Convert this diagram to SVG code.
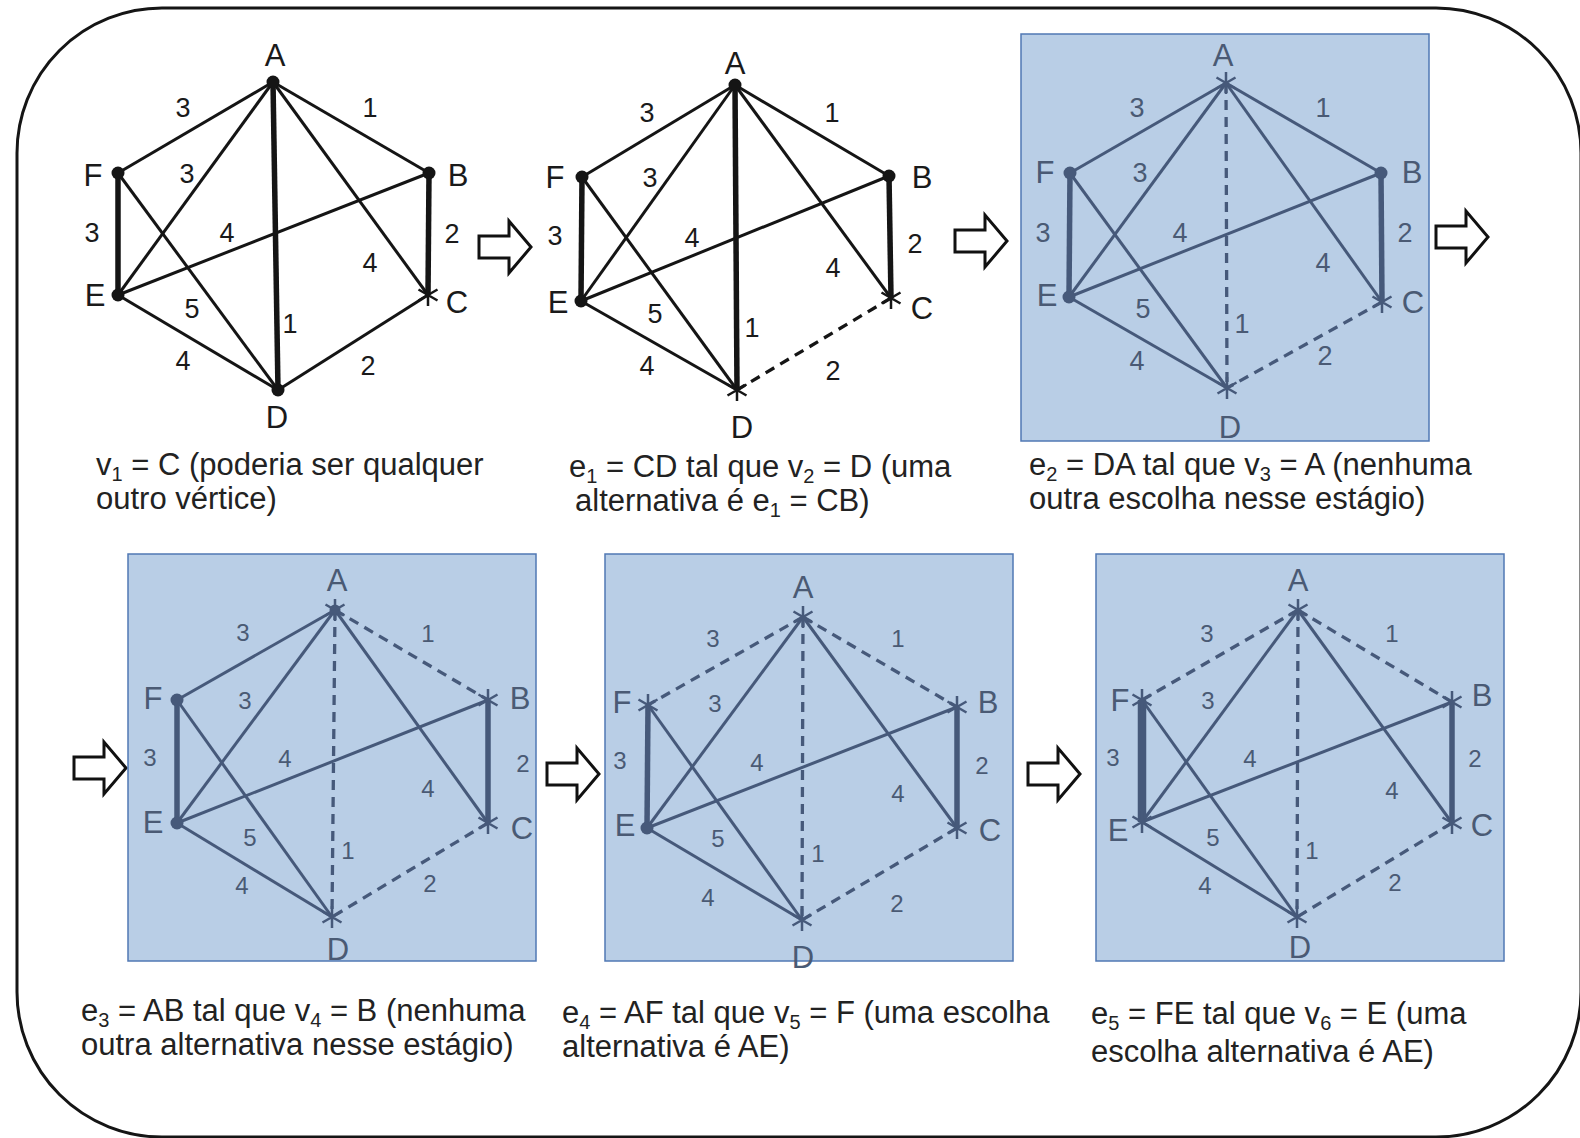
<svg xmlns="http://www.w3.org/2000/svg" width="1580" height="1138" viewBox="0 0 1580 1138">
<defs>
<style>
text{font-family:"Liberation Sans",Arial,sans-serif}
.lb{font-size:31px;text-anchor:middle}
.w{font-size:27px;text-anchor:middle}
.w2{font-size:24px;text-anchor:middle}
.cap{font-size:31px;fill:#222}
.sub{font-size:20px}
.k line{stroke:#151515}
.k text{fill:#1a1a1a}
.k circle{fill:#151515}
.k use{stroke:#151515}
.bl line{stroke:#46597a}
.bl text{fill:#4a5a74}
.bl circle{fill:#46597a}
.bl use{stroke:#46597a}
.e{stroke-width:3}
.t{stroke-width:5.5}
.tt{stroke-width:8.5}
.d{stroke-width:3.3;stroke-dasharray:10 7}
.box{fill:#b9cee6;stroke:#5078b4;stroke-width:1.5}
.arr{fill:#fff;stroke:#111;stroke-width:3}
.frame{fill:none;stroke:#151515;stroke-width:3}
</style>
<path id="st" d="M0,-11V11M-9.5,-5.5L9.5,5.5M-9.5,5.5L9.5,-5.5" fill="none" stroke-width="2.5"/>
<path id="ar" d="M0,-11H30V-26L52,0L30,26V11H0Z"/>
</defs>
<rect width="1580" height="1138" fill="#fff"/>
<rect class="frame" x="17" y="8" width="1564" height="1129" rx="145" ry="145"/>

<!-- arrows -->
<g id="arrows">
<use href="#ar" class="arr" x="479" y="247"/>
<use href="#ar" class="arr" x="955" y="241"/>
<use href="#ar" class="arr" x="1436" y="237"/>
<use href="#ar" class="arr" x="74" y="768"/>
<use href="#ar" class="arr" x="547" y="774"/>
<use href="#ar" class="arr" x="1028" y="774"/>
</g>

<!-- Panel 1 -->
<g id="panel1" class="k">
<g id="p1-edges">
<line class="e" x1="273" y1="82" x2="118" y2="173"/>
<line class="e" x1="273" y1="82" x2="429" y2="173"/>
<line class="e" x1="273" y1="82" x2="118" y2="295"/>
<line class="t" x1="273" y1="82" x2="278" y2="390"/>
<line class="e" x1="273" y1="82" x2="428" y2="295"/>
<line class="t" x1="118" y1="173" x2="118" y2="295"/>
<line class="e" x1="118" y1="173" x2="278" y2="390"/>
<line class="e" x1="118" y1="295" x2="429" y2="173"/>
<line class="e" x1="118" y1="295" x2="278" y2="390"/>
<line class="t" x1="429" y1="173" x2="428" y2="295"/>
<line class="e" x1="428" y1="295" x2="278" y2="390"/>
<text class="w" x="183" y="117">3</text>
<text class="w" x="370" y="117">1</text>
<text class="w" x="187" y="183">3</text>
<text class="w" x="92" y="242">3</text>
<text class="w" x="227" y="242">4</text>
<text class="w" x="452" y="243">2</text>
<text class="w" x="370" y="272">4</text>
<text class="w" x="192" y="318">5</text>
<text class="w" x="290" y="333">1</text>
<text class="w" x="183" y="370">4</text>
<text class="w" x="368" y="375">2</text>
</g>
<g id="p1-A"><circle cx="273" cy="82" r="6.5"/><text class="lb" x="275" y="66">A</text></g>
<g id="p1-B"><circle cx="429" cy="173" r="6.5"/><text class="lb" x="458" y="186">B</text></g>
<g id="p1-C"><use href="#st" x="428" y="295"/><text class="lb" x="457" y="313">C</text></g>
<g id="p1-D"><circle cx="278" cy="390" r="6.5"/><text class="lb" x="277" y="428">D</text></g>
<g id="p1-E"><circle cx="118" cy="295" r="6.5"/><text class="lb" x="95" y="306">E</text></g>
<g id="p1-F"><circle cx="118" cy="173" r="6.5"/><text class="lb" x="93" y="186">F</text></g>
</g>

<!-- Panel 2 -->
<g id="panel2" class="k">
<g id="p2-edges">
<line class="e" x1="735" y1="85" x2="582" y2="177"/>
<line class="e" x1="735" y1="85" x2="889" y2="176"/>
<line class="e" x1="735" y1="85" x2="581" y2="301"/>
<line class="t" x1="735" y1="85" x2="737" y2="390"/>
<line class="e" x1="735" y1="85" x2="891" y2="298"/>
<line class="t" x1="582" y1="177" x2="581" y2="301"/>
<line class="e" x1="582" y1="177" x2="737" y2="390"/>
<line class="e" x1="581" y1="301" x2="889" y2="176"/>
<line class="e" x1="581" y1="301" x2="737" y2="390"/>
<line class="t" x1="889" y1="176" x2="891" y2="298"/>
<line class="d" x1="891" y1="298" x2="737" y2="390"/>
<text class="w" x="647" y="122">3</text>
<text class="w" x="832" y="122">1</text>
<text class="w" x="650" y="187">3</text>
<text class="w" x="555" y="245">3</text>
<text class="w" x="692" y="247">4</text>
<text class="w" x="915" y="253">2</text>
<text class="w" x="833" y="277">4</text>
<text class="w" x="655" y="323">5</text>
<text class="w" x="752" y="337">1</text>
<text class="w" x="647" y="375">4</text>
<text class="w" x="833" y="380">2</text>
</g>
<g id="p2-A"><circle cx="735" cy="85" r="6.5"/><text class="lb" x="735" y="74">A</text></g>
<g id="p2-B"><circle cx="889" cy="176" r="6.5"/><text class="lb" x="922" y="188">B</text></g>
<g id="p2-C"><use href="#st" x="891" y="298"/><text class="lb" x="922" y="319">C</text></g>
<g id="p2-D"><use href="#st" x="737" y="390"/><text class="lb" x="742" y="438">D</text></g>
<g id="p2-E"><circle cx="581" cy="301" r="6.5"/><text class="lb" x="558" y="313">E</text></g>
<g id="p2-F"><circle cx="582" cy="177" r="6.5"/><text class="lb" x="555" y="188">F</text></g>
</g>

<!-- Panel 3 -->
<g id="panel3" class="bl">
<rect class="box" x="1021" y="34" width="408" height="407"/>
<g id="p3-edges">
<line class="e" x1="1226" y1="83" x2="1070" y2="173"/>
<line class="e" x1="1226" y1="83" x2="1381" y2="173"/>
<line class="e" x1="1226" y1="83" x2="1069" y2="297"/>
<line class="d" x1="1226" y1="83" x2="1227" y2="388"/>
<line class="e" x1="1226" y1="83" x2="1382" y2="302"/>
<line class="t" x1="1070" y1="173" x2="1069" y2="297"/>
<line class="e" x1="1070" y1="173" x2="1227" y2="388"/>
<line class="e" x1="1069" y1="297" x2="1381" y2="173"/>
<line class="e" x1="1069" y1="297" x2="1227" y2="388"/>
<line class="t" x1="1381" y1="173" x2="1382" y2="302"/>
<line class="d" x1="1382" y1="302" x2="1227" y2="388"/>
<text class="w" x="1137" y="117">3</text>
<text class="w" x="1323" y="117">1</text>
<text class="w" x="1140" y="182">3</text>
<text class="w" x="1043" y="242">3</text>
<text class="w" x="1180" y="242">4</text>
<text class="w" x="1405" y="242">2</text>
<text class="w" x="1323" y="272">4</text>
<text class="w" x="1143" y="318">5</text>
<text class="w" x="1242" y="333">1</text>
<text class="w" x="1137" y="370">4</text>
<text class="w" x="1325" y="365">2</text>
</g>
<g id="p3-A"><use href="#st" x="1226" y="83"/><text class="lb" x="1223" y="66">A</text></g>
<g id="p3-B"><circle cx="1381" cy="173" r="6.5"/><text class="lb" x="1412" y="183">B</text></g>
<g id="p3-C"><use href="#st" x="1382" y="302"/><text class="lb" x="1413" y="313">C</text></g>
<g id="p3-D"><use href="#st" x="1227" y="388"/><text class="lb" x="1230" y="438">D</text></g>
<g id="p3-E"><circle cx="1069" cy="297" r="6.5"/><text class="lb" x="1047" y="306">E</text></g>
<g id="p3-F"><circle cx="1070" cy="173" r="6.5"/><text class="lb" x="1045" y="183">F</text></g>
</g>

<!-- Panel 4 -->
<g id="panel4" class="bl">
<rect class="box" x="128" y="554" width="408" height="407"/>
<g id="p4-edges">
<line class="e" x1="335" y1="610" x2="177" y2="700"/>
<line class="d" x1="335" y1="610" x2="488" y2="700"/>
<line class="e" x1="335" y1="610" x2="177" y2="823"/>
<line class="d" x1="335" y1="610" x2="332" y2="917"/>
<line class="e" x1="335" y1="610" x2="488" y2="823"/>
<line class="t" x1="177" y1="700" x2="177" y2="823"/>
<line class="e" x1="177" y1="700" x2="332" y2="917"/>
<line class="e" x1="177" y1="823" x2="488" y2="700"/>
<line class="e" x1="177" y1="823" x2="332" y2="917"/>
<line class="t" x1="488" y1="700" x2="488" y2="823"/>
<line class="d" x1="488" y1="823" x2="332" y2="917"/>
<text class="w2" x="243" y="641">3</text>
<text class="w2" x="428" y="642">1</text>
<text class="w2" x="245" y="709">3</text>
<text class="w2" x="150" y="766">3</text>
<text class="w2" x="285" y="767">4</text>
<text class="w2" x="523" y="772">2</text>
<text class="w2" x="428" y="797">4</text>
<text class="w2" x="250" y="846">5</text>
<text class="w2" x="348" y="859">1</text>
<text class="w2" x="242" y="894">4</text>
<text class="w2" x="430" y="892">2</text>
</g>
<g id="p4-A"><circle cx="335" cy="610" r="5.5"/><use href="#st" x="335" y="610"/><text class="lb" x="337" y="591">A</text></g>
<g id="p4-B"><use href="#st" x="488" y="700"/><text class="lb" x="520" y="709">B</text></g>
<g id="p4-C"><use href="#st" x="488" y="823"/><text class="lb" x="522" y="839">C</text></g>
<g id="p4-D"><use href="#st" x="332" y="917"/><text class="lb" x="338" y="960">D</text></g>
<g id="p4-E"><circle cx="177" cy="823" r="6.5"/><text class="lb" x="153" y="833">E</text></g>
<g id="p4-F"><circle cx="177" cy="700" r="6.5"/><text class="lb" x="153" y="709">F</text></g>
</g>

<!-- Panel 5 -->
<g id="panel5" class="bl">
<rect class="box" x="605" y="554" width="408" height="407"/>
<g id="p5-edges">
<line class="d" x1="803" y1="617" x2="648" y2="705"/>
<line class="d" x1="803" y1="617" x2="957" y2="707"/>
<line class="e" x1="803" y1="617" x2="647" y2="828"/>
<line class="d" x1="803" y1="617" x2="802" y2="920"/>
<line class="e" x1="803" y1="617" x2="957" y2="828"/>
<line class="t" x1="648" y1="705" x2="647" y2="828"/>
<line class="e" x1="648" y1="705" x2="802" y2="920"/>
<line class="e" x1="647" y1="828" x2="957" y2="707"/>
<line class="e" x1="647" y1="828" x2="802" y2="920"/>
<line class="t" x1="957" y1="707" x2="957" y2="828"/>
<line class="d" x1="957" y1="828" x2="802" y2="920"/>
<text class="w2" x="713" y="647">3</text>
<text class="w2" x="898" y="647">1</text>
<text class="w2" x="715" y="712">3</text>
<text class="w2" x="620" y="769">3</text>
<text class="w2" x="757" y="771">4</text>
<text class="w2" x="982" y="774">2</text>
<text class="w2" x="898" y="802">4</text>
<text class="w2" x="718" y="847">5</text>
<text class="w2" x="818" y="862">1</text>
<text class="w2" x="708" y="906">4</text>
<text class="w2" x="897" y="912">2</text>
</g>
<g id="p5-A"><use href="#st" x="803" y="617"/><text class="lb" x="803" y="598">A</text></g>
<g id="p5-B"><use href="#st" x="957" y="707"/><text class="lb" x="988" y="713">B</text></g>
<g id="p5-C"><use href="#st" x="957" y="828"/><text class="lb" x="990" y="841">C</text></g>
<g id="p5-D"><use href="#st" x="802" y="920"/><text class="lb" x="803" y="968">D</text></g>
<g id="p5-E"><circle cx="647" cy="828" r="6.5"/><text class="lb" x="625" y="836">E</text></g>
<g id="p5-F"><use href="#st" x="648" y="705"/><text class="lb" x="622" y="713">F</text></g>
</g>

<!-- Panel 6 -->
<g id="panel6" class="bl">
<rect class="box" x="1096" y="554" width="408" height="407"/>
<g id="p6-edges">
<line class="d" x1="1298" y1="610" x2="1142" y2="700"/>
<line class="d" x1="1298" y1="610" x2="1452" y2="702"/>
<line class="e" x1="1298" y1="610" x2="1142" y2="822"/>
<line class="d" x1="1298" y1="610" x2="1297" y2="917"/>
<line class="e" x1="1298" y1="610" x2="1452" y2="823"/>
<line class="tt" x1="1142" y1="700" x2="1142" y2="822"/>
<line class="e" x1="1142" y1="700" x2="1297" y2="917"/>
<line class="e" x1="1142" y1="822" x2="1452" y2="702"/>
<line class="e" x1="1142" y1="822" x2="1297" y2="917"/>
<line class="t" x1="1452" y1="702" x2="1452" y2="823"/>
<line class="d" x1="1452" y1="823" x2="1297" y2="917"/>
<text class="w2" x="1207" y="642">3</text>
<text class="w2" x="1392" y="642">1</text>
<text class="w2" x="1208" y="709">3</text>
<text class="w2" x="1113" y="766">3</text>
<text class="w2" x="1250" y="767">4</text>
<text class="w2" x="1475" y="767">2</text>
<text class="w2" x="1392" y="799">4</text>
<text class="w2" x="1213" y="846">5</text>
<text class="w2" x="1312" y="859">1</text>
<text class="w2" x="1205" y="894">4</text>
<text class="w2" x="1395" y="891">2</text>
</g>
<g id="p6-A"><use href="#st" x="1298" y="610"/><text class="lb" x="1298" y="591">A</text></g>
<g id="p6-B"><use href="#st" x="1452" y="702"/><text class="lb" x="1482" y="706">B</text></g>
<g id="p6-C"><use href="#st" x="1452" y="823"/><text class="lb" x="1482" y="836">C</text></g>
<g id="p6-D"><use href="#st" x="1297" y="917"/><text class="lb" x="1300" y="958">D</text></g>
<g id="p6-E"><use href="#st" x="1142" y="822"/><text class="lb" x="1118" y="841">E</text></g>
<g id="p6-F"><use href="#st" x="1142" y="700"/><text class="lb" x="1120" y="711">F</text></g>
</g>

<!-- captions -->
<g id="captions">
<text class="cap" x="96" y="475">v<tspan class="sub" dy="6">1</tspan><tspan dy="-6"> = C (poderia ser qualquer</tspan></text>
<text class="cap" x="96" y="509">outro vértice)</text>
<text class="cap" x="569" y="477">e<tspan class="sub" dy="6">1</tspan><tspan dy="-6"> = CD tal que v</tspan><tspan class="sub" dy="6">2</tspan><tspan dy="-6"> = D (uma</tspan></text>
<text class="cap" x="575" y="511">alternativa é e<tspan class="sub" dy="6">1</tspan><tspan dy="-6"> = CB)</tspan></text>
<text class="cap" x="1029" y="475">e<tspan class="sub" dy="6">2</tspan><tspan dy="-6"> = DA tal que v</tspan><tspan class="sub" dy="6">3</tspan><tspan dy="-6"> = A (nenhuma</tspan></text>
<text class="cap" x="1029" y="509">outra escolha nesse estágio)</text>
<text class="cap" x="81" y="1021">e<tspan class="sub" dy="6">3</tspan><tspan dy="-6"> = AB tal que v</tspan><tspan class="sub" dy="6">4</tspan><tspan dy="-6"> = B (nenhuma</tspan></text>
<text class="cap" x="81" y="1055">outra alternativa nesse estágio)</text>
<text class="cap" x="562" y="1023">e<tspan class="sub" dy="6">4</tspan><tspan dy="-6"> = AF tal que v</tspan><tspan class="sub" dy="6">5</tspan><tspan dy="-6"> = F (uma escolha</tspan></text>
<text class="cap" x="562" y="1057">alternativa é AE)</text>
<text class="cap" x="1091" y="1024">e<tspan class="sub" dy="6">5</tspan><tspan dy="-6"> = FE tal que v</tspan><tspan class="sub" dy="6">6</tspan><tspan dy="-6"> = E (uma</tspan></text>
<text class="cap" x="1091" y="1062">escolha alternativa é AE)</text>
</g>
</svg>
